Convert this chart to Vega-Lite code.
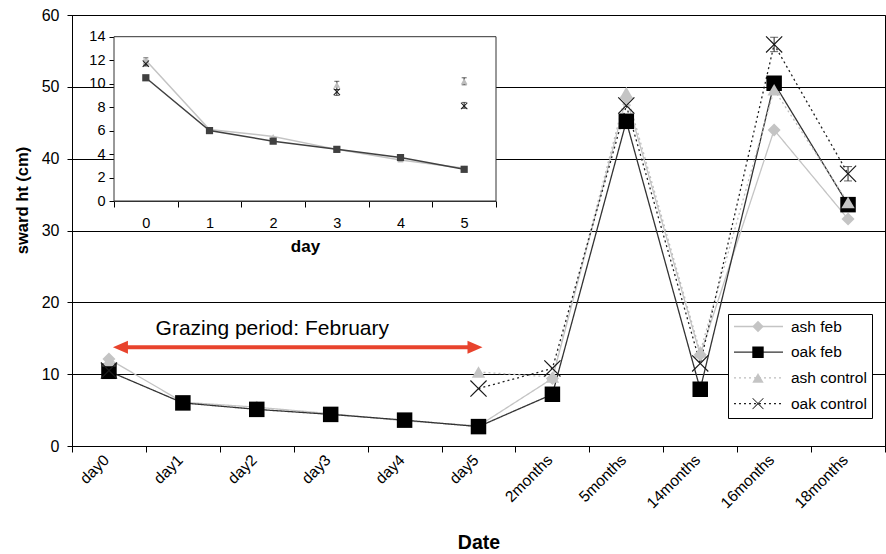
{
  "$schema": "https://vega.github.io/schema/vega-lite/v6.json",
  "width": 813,
  "height": 431,
  "autosize": "none",
  "padding": {"left": 72, "top": 15, "right": 1, "bottom": 108},
  "background": "white",
  "config": {
    "view": {"stroke": "#000", "strokeWidth": 1},
    "font": "Liberation Sans",
    "axis": {
      "labelFont": "Liberation Sans",
      "titleFont": "Liberation Sans",
      "domainColor": "#000",
      "tickColor": "#000",
      "labelColor": "#000",
      "titleColor": "#000",
      "gridColor": "#000",
      "gridOpacity": 1,
      "domainWidth": 1,
      "tickWidth": 1
    },
    "legend": {"labelFont": "Liberation Sans", "labelColor": "#000"}
  },
  "datasets": {
    "main": [
      {"date": "day0", "series": "ash feb", "v": 12.1, "seg": "a"},
      {"date": "day1", "series": "ash feb", "v": 6.1, "seg": "a"},
      {"date": "day2", "series": "ash feb", "v": 5.4, "seg": "a"},
      {"date": "day3", "series": "ash feb", "v": 4.5, "seg": "a"},
      {"date": "day4", "series": "ash feb", "v": 3.5, "seg": "a"},
      {"date": "day5", "series": "ash feb", "v": 2.8, "seg": "a"},
      {"date": "2months", "series": "ash feb", "v": 9.4, "seg": "a"},
      {"date": "5months", "series": "ash feb", "v": 48.5, "seg": "a"},
      {"date": "14months", "series": "ash feb", "v": 12.7, "seg": "a"},
      {"date": "16months", "series": "ash feb", "v": 44.0, "seg": "a"},
      {"date": "18months", "series": "ash feb", "v": 31.6, "seg": "a"},
      {"date": "day0", "series": "oak feb", "v": 10.4, "seg": "a"},
      {"date": "day1", "series": "oak feb", "v": 6.0, "seg": "a"},
      {"date": "day2", "series": "oak feb", "v": 5.1, "seg": "a"},
      {"date": "day3", "series": "oak feb", "v": 4.4, "seg": "a"},
      {"date": "day4", "series": "oak feb", "v": 3.6, "seg": "a"},
      {"date": "day5", "series": "oak feb", "v": 2.7, "seg": "a"},
      {"date": "2months", "series": "oak feb", "v": 7.2, "seg": "a"},
      {"date": "5months", "series": "oak feb", "v": 45.2, "seg": "a"},
      {"date": "14months", "series": "oak feb", "v": 7.9, "seg": "a"},
      {"date": "16months", "series": "oak feb", "v": 50.5, "seg": "a"},
      {"date": "18months", "series": "oak feb", "v": 33.6, "seg": "a"},
      {"date": "day0", "series": "ash control", "v": 11.9, "seg": "a"},
      {"date": "day5", "series": "ash control", "v": 10.3, "seg": "b"},
      {"date": "2months", "series": "ash control", "v": 9.6, "seg": "b"},
      {"date": "5months", "series": "ash control", "v": 49.2, "seg": "b"},
      {"date": "14months", "series": "ash control", "v": 13.1, "seg": "b"},
      {"date": "16months", "series": "ash control", "v": 49.6, "seg": "b"},
      {"date": "18months", "series": "ash control", "v": 33.9, "seg": "b"},
      {"date": "day0", "series": "oak control", "v": 10.5, "seg": "a"},
      {"date": "day5", "series": "oak control", "v": 8.0, "seg": "b"},
      {"date": "2months", "series": "oak control", "v": 10.8, "seg": "b"},
      {"date": "5months", "series": "oak control", "v": 47.4, "seg": "b"},
      {"date": "14months", "series": "oak control", "v": 11.5, "seg": "b"},
      {"date": "16months", "series": "oak control", "v": 55.9, "seg": "b", "lo": 54.9, "hi": 56.9},
      {"date": "18months", "series": "oak control", "v": 37.9, "seg": "b", "lo": 36.9, "hi": 38.9}
    ],
    "inset": [
      {"d": 0, "series": "ash feb", "v": 12.0},
      {"d": 1, "series": "ash feb", "v": 6.1},
      {"d": 2, "series": "ash feb", "v": 5.5},
      {"d": 3, "series": "ash feb", "v": 4.4},
      {"d": 4, "series": "ash feb", "v": 3.5},
      {"d": 5, "series": "ash feb", "v": 2.8},
      {"d": 0, "series": "oak feb", "v": 10.5},
      {"d": 1, "series": "oak feb", "v": 6.0},
      {"d": 2, "series": "oak feb", "v": 5.1},
      {"d": 3, "series": "oak feb", "v": 4.4},
      {"d": 4, "series": "oak feb", "v": 3.7},
      {"d": 5, "series": "oak feb", "v": 2.7},
      {"d": 0, "series": "ash control", "v": 11.9, "lo": 11.6, "hi": 12.2},
      {"d": 3, "series": "ash control", "v": 9.9, "lo": 9.5, "hi": 10.2},
      {"d": 5, "series": "ash control", "v": 10.2, "lo": 9.9, "hi": 10.5},
      {"d": 0, "series": "oak control", "v": 11.7, "lo": 11.5, "hi": 12.0},
      {"d": 3, "series": "oak control", "v": 9.3, "lo": 9.0, "hi": 9.5},
      {"d": 5, "series": "oak control", "v": 8.1, "lo": 7.9, "hi": 8.4}
    ],
    "one": [{"note": "Grazing period: February"}]
  },
  "layer": [
    {
      "layer": [
        {
          "data": {"name": "main"},
          "mark": {"type": "line", "strokeWidth": 1.3},
          "encoding": {
            "x": {
              "field": "date", "type": "nominal",
              "scale": {"type": "band", "domain": ["day0","day1","day2","day3","day4","day5","2months","5months","14months","16months","18months"], "paddingInner": 0, "paddingOuter": 0},
              "axis": {"title": "Date", "titleFontSize": 19.5, "titleFontWeight": "bold", "titlePadding": 22, "labelAngle": -45, "labelAlign": "right", "labelBaseline": "middle", "labelFontSize": 15.5, "labelOffset": -3, "tickBand": "extent", "tickSize": 6, "labelPadding": 5, "grid": false, "labelOverlap": false}
            },
            "y": {
              "field": "v", "type": "quantitative",
              "scale": {"domain": [0, 60], "nice": false},
              "axis": {"title": "sward ht (cm)", "titleFontSize": 16.5, "titleFontWeight": "bold", "titleX": -49.5, "titleY": 185, "titleBaseline": "middle", "titleAlign": "center", "titleAngle": -90, "values": [0,10,20,30,40,50,60], "labelFontSize": 16, "tickSize": 5, "labelPadding": 8, "grid": true}
            },
            "stroke": {
              "field": "series", "type": "nominal",
              "scale": {"range": ["#bdbdbd", "#c4c4c4", "#222222", "#333333"]},
              "legend": {"orient": "none", "legendX": 656, "legendY": 299, "title": null, "values": ["ash feb", "oak feb", "ash control", "oak control"], "symbolType": "stroke", "symbolSize": 2401, "symbolStrokeWidth": 1.3, "clipHeight": 15, "labelFontSize": 15.5, "labelOffset": 7, "padding": 5, "rowPadding": 9.7, "strokeColor": "#000", "fillColor": "white", "zindex": 1}
            },
            "strokeDash": {
              "field": "series", "type": "nominal",
              "scale": {"range": [[2, 3], [1, 0], [2, 3], [1, 0]]}
            },
            "detail": {"field": "seg"}
          }
        },
        {
          "data": {"name": "main"},
          "transform": [{"filter": "isValid(datum.lo)"}],
          "mark": {"type": "errorbar", "ticks": {"size": 8}, "color": "#222", "thickness": 1},
          "encoding": {
            "x": {"field": "date", "type": "nominal", "scale": {"type": "band", "domain": ["day0","day1","day2","day3","day4","day5","2months","5months","14months","16months","18months"], "paddingInner": 0, "paddingOuter": 0}},
            "y": {"field": "lo", "type": "quantitative", "title": "sward ht (cm)", "scale": {"domain": [0, 60], "nice": false}},
            "y2": {"field": "hi"}
          }
        },
        {
          "data": {"name": "main"},
          "transform": [{"filter": "datum.series == 'ash feb'"}],
          "mark": {"type": "point", "filled": true, "opacity": 1, "strokeWidth": 0, "size": 170},
          "encoding": {
            "x": {"field": "date", "type": "nominal", "scale": {"type": "band", "domain": ["day0","day1","day2","day3","day4","day5","2months","5months","14months","16months","18months"], "paddingInner": 0, "paddingOuter": 0}},
            "y": {"field": "v", "type": "quantitative", "title": "sward ht (cm)", "scale": {"domain": [0, 60], "nice": false}},
            "fill": {
              "field": "series", "type": "nominal",
              "scale": {"domain": ["ash feb", "oak feb", "ash control", "oak control"], "range": ["#c4c4c4", "#000000", "#c4c4c4", "#1a1a1a"]},
              "legend": {"orient": "none", "legendX": 673.25, "legendY": 299, "title": null, "symbolSize": 130, "symbolStrokeWidth": 0, "clipHeight": 15, "labelFontSize": 15.5, "labelOpacity": 0, "labelExpr": "''", "padding": 5, "rowPadding": 9.7, "zindex": 2}
            },
            "shape": {
              "field": "series", "type": "nominal",
              "scale": {"domain": ["ash feb", "oak feb", "ash control", "oak control"], "range": ["diamond", "square", "triangle-up", "M-1,-0.9L-0.9,-1L0,-0.1L0.9,-1L1,-0.9L0.1,0L1,0.9L0.9,1L0,0.1L-0.9,1L-1,0.9L-0.1,0Z"]}
            }
          }
        },
        {
          "data": {"name": "main"},
          "transform": [{"filter": "datum.series == 'oak feb'"}],
          "mark": {"type": "point", "filled": true, "opacity": 1, "strokeWidth": 0, "size": 240},
          "encoding": {
            "x": {"field": "date", "type": "nominal", "scale": {"type": "band", "domain": ["day0","day1","day2","day3","day4","day5","2months","5months","14months","16months","18months"], "paddingInner": 0, "paddingOuter": 0}},
            "y": {"field": "v", "type": "quantitative", "title": "sward ht (cm)", "scale": {"domain": [0, 60], "nice": false}},
            "fill": {"field": "series", "type": "nominal", "scale": {"domain": ["ash feb", "oak feb", "ash control", "oak control"], "range": ["#c4c4c4", "#000000", "#c4c4c4", "#1a1a1a"]}},
            "shape": {"field": "series", "type": "nominal", "scale": {"domain": ["ash feb", "oak feb", "ash control", "oak control"], "range": ["diamond", "square", "triangle-up", "M-1,-0.9L-0.9,-1L0,-0.1L0.9,-1L1,-0.9L0.1,0L1,0.9L0.9,1L0,0.1L-0.9,1L-1,0.9L-0.1,0Z"]}}
          }
        },
        {
          "data": {"name": "main"},
          "transform": [{"filter": "datum.series == 'ash control'"}],
          "mark": {"type": "point", "filled": true, "opacity": 1, "strokeWidth": 0, "size": 180},
          "encoding": {
            "x": {"field": "date", "type": "nominal", "scale": {"type": "band", "domain": ["day0","day1","day2","day3","day4","day5","2months","5months","14months","16months","18months"], "paddingInner": 0, "paddingOuter": 0}},
            "y": {"field": "v", "type": "quantitative", "title": "sward ht (cm)", "scale": {"domain": [0, 60], "nice": false}},
            "fill": {"field": "series", "type": "nominal", "scale": {"domain": ["ash feb", "oak feb", "ash control", "oak control"], "range": ["#c4c4c4", "#000000", "#c4c4c4", "#1a1a1a"]}},
            "shape": {"field": "series", "type": "nominal", "scale": {"domain": ["ash feb", "oak feb", "ash control", "oak control"], "range": ["diamond", "square", "triangle-up", "M-1,-0.9L-0.9,-1L0,-0.1L0.9,-1L1,-0.9L0.1,0L1,0.9L0.9,1L0,0.1L-0.9,1L-1,0.9L-0.1,0Z"]}}
          }
        },
        {
          "data": {"name": "main"},
          "transform": [{"filter": "datum.series == 'oak control'"}],
          "mark": {"type": "point", "filled": true, "opacity": 1, "strokeWidth": 0, "size": 289},
          "encoding": {
            "x": {"field": "date", "type": "nominal", "scale": {"type": "band", "domain": ["day0","day1","day2","day3","day4","day5","2months","5months","14months","16months","18months"], "paddingInner": 0, "paddingOuter": 0}},
            "y": {"field": "v", "type": "quantitative", "title": "sward ht (cm)", "scale": {"domain": [0, 60], "nice": false}},
            "fill": {"field": "series", "type": "nominal", "scale": {"domain": ["ash feb", "oak feb", "ash control", "oak control"], "range": ["#c4c4c4", "#000000", "#c4c4c4", "#1a1a1a"]}},
            "shape": {"field": "series", "type": "nominal", "scale": {"domain": ["ash feb", "oak feb", "ash control", "oak control"], "range": ["diamond", "square", "triangle-up", "M-1,-0.9L-0.9,-1L0,-0.1L0.9,-1L1,-0.9L0.1,0L1,0.9L0.9,1L0,0.1L-0.9,1L-1,0.9L-0.1,0Z"]}}
          }
        },
        {
          "data": {"name": "one"},
          "mark": {"type": "rule", "color": "#e8432d", "strokeWidth": 4, "xOffset": 12, "x2Offset": -5},
          "encoding": {
            "x": {"datum": "day0", "type": "nominal", "scale": {"type": "band", "domain": ["day0","day1","day2","day3","day4","day5","2months","5months","14months","16months","18months"], "paddingInner": 0, "paddingOuter": 0}},
            "x2": {"datum": "day5"},
            "y": {"datum": 13.74, "type": "quantitative", "scale": {"domain": [0, 60], "nice": false}}
          }
        },
        {
          "data": {"name": "one"},
          "mark": {"type": "point", "filled": true, "opacity": 1, "strokeWidth": 0, "fill": "#e8432d", "size": 225, "shape": "M-1,0L1,-0.87L1,0.87Z", "xOffset": 11.5},
          "encoding": {
            "x": {"datum": "day0", "type": "nominal", "scale": {"type": "band", "domain": ["day0","day1","day2","day3","day4","day5","2months","5months","14months","16months","18months"], "paddingInner": 0, "paddingOuter": 0}},
            "y": {"datum": 13.74, "type": "quantitative", "scale": {"domain": [0, 60], "nice": false}}
          }
        },
        {
          "data": {"name": "one"},
          "mark": {"type": "point", "filled": true, "opacity": 1, "strokeWidth": 0, "fill": "#e8432d", "size": 225, "shape": "M1,0L-1,-0.87L-1,0.87Z", "xOffset": -3.5},
          "encoding": {
            "x": {"datum": "day5", "type": "nominal", "scale": {"type": "band", "domain": ["day0","day1","day2","day3","day4","day5","2months","5months","14months","16months","18months"], "paddingInner": 0, "paddingOuter": 0}},
            "y": {"datum": 13.74, "type": "quantitative", "scale": {"domain": [0, 60], "nice": false}}
          }
        },
        {
          "data": {"name": "one"},
          "mark": {"type": "text", "fontSize": 21, "align": "center", "baseline": "alphabetic", "xOffset": 15.5, "color": "#000", "font": "Liberation Sans"},
          "encoding": {
            "x": {"datum": "day2", "type": "nominal", "scale": {"type": "band", "domain": ["day0","day1","day2","day3","day4","day5","2months","5months","14months","16months","18months"], "paddingInner": 0, "paddingOuter": 0}},
            "y": {"datum": 15.45, "type": "quantitative", "scale": {"domain": [0, 60], "nice": false}},
            "text": {"field": "note"}
          }
        }
      ]
    },
    {
      "layer": [
        {
          "data": {"name": "one"},
          "mark": {"type": "rect", "fill": "white", "stroke": "#333", "strokeWidth": 1},
          "encoding": {
            "x": {
              "datum": -0.5, "type": "quantitative",
              "scale": {"domain": [-0.5, 5.5], "range": [42, 424], "nice": false, "zero": false},
              "axis": {"orient": "bottom", "offset": -245, "values": [-0.5, 0.5, 1.5, 2.5, 3.5, 4.5, 5.5], "labelExpr": "datum.value < 5 ? format(datum.value + 0.5, 'd') : ''", "labelOffset": 31.8, "labelFontSize": 14.5, "tickSize": 6, "labelPadding": 9, "title": "day", "titleFontSize": 17, "titleFontWeight": "bold", "titlePadding": 9, "grid": false, "labelFlush": false, "labelOverlap": false, "domainColor": "#333"}
            },
            "x2": {"datum": 5.5},
            "y": {
              "datum": 0, "type": "quantitative",
              "scale": {"domain": [0, 14], "range": [186, 21.7], "nice": false},
              "axis": {"orient": "left", "offset": -42, "values": [0, 2, 4, 6, 8, 10, 12, 14], "labelFontSize": 14.5, "tickSize": 5, "labelPadding": 4, "title": null, "grid": false, "labelFlush": false, "labelOverlap": false, "domainColor": "#333"}
            },
            "y2": {"datum": 14}
          }
        },
        {
          "data": {"name": "inset"},
          "transform": [{"filter": "datum.series == 'ash feb'"}],
          "mark": {"type": "line", "color": "#c4c4c4", "strokeWidth": 1.5},
          "encoding": {
            "x": {"field": "d", "type": "quantitative", "scale": {"domain": [-0.5, 5.5], "range": [42, 424], "nice": false, "zero": false}},
            "y": {"field": "v", "type": "quantitative", "scale": {"domain": [0, 14], "range": [186, 21.7], "nice": false}}
          }
        },
        {
          "data": {"name": "inset"},
          "transform": [{"filter": "datum.series == 'oak feb'"}],
          "mark": {"type": "line", "color": "#404040", "strokeWidth": 1.5},
          "encoding": {
            "x": {"field": "d", "type": "quantitative", "scale": {"domain": [-0.5, 5.5], "range": [42, 424], "nice": false, "zero": false}},
            "y": {"field": "v", "type": "quantitative", "scale": {"domain": [0, 14], "range": [186, 21.7], "nice": false}}
          }
        },
        {
          "data": {"name": "inset"},
          "transform": [{"filter": "isValid(datum.lo)"}],
          "mark": {"type": "errorbar", "ticks": {"size": 5}, "color": "#222", "thickness": 1},
          "encoding": {
            "x": {"field": "d", "type": "quantitative", "scale": {"domain": [-0.5, 5.5], "range": [42, 424], "nice": false, "zero": false}},
            "y": {"field": "lo", "type": "quantitative", "scale": {"domain": [0, 14], "range": [186, 21.7], "nice": false}},
            "y2": {"field": "hi"}
          }
        },
        {
          "data": {"name": "inset"},
          "transform": [{"filter": "datum.series == 'ash feb'"}],
          "mark": {"type": "point", "filled": true, "opacity": 1, "strokeWidth": 0, "fill": "#c4c4c4", "shape": "triangle-up", "size": 35},
          "encoding": {
            "x": {"field": "d", "type": "quantitative", "scale": {"domain": [-0.5, 5.5], "range": [42, 424], "nice": false, "zero": false}},
            "y": {"field": "v", "type": "quantitative", "scale": {"domain": [0, 14], "range": [186, 21.7], "nice": false}}
          }
        },
        {
          "data": {"name": "inset"},
          "transform": [{"filter": "datum.series == 'oak feb'"}],
          "mark": {"type": "point", "filled": true, "opacity": 1, "strokeWidth": 0, "fill": "#404040", "shape": "square", "size": 52},
          "encoding": {
            "x": {"field": "d", "type": "quantitative", "scale": {"domain": [-0.5, 5.5], "range": [42, 424], "nice": false, "zero": false}},
            "y": {"field": "v", "type": "quantitative", "scale": {"domain": [0, 14], "range": [186, 21.7], "nice": false}}
          }
        },
        {
          "data": {"name": "inset"},
          "transform": [{"filter": "datum.series == 'ash control'"}],
          "mark": {"type": "point", "filled": true, "opacity": 1, "strokeWidth": 0, "fill": "#bdbdbd", "shape": "triangle-up", "size": 45},
          "encoding": {
            "x": {"field": "d", "type": "quantitative", "scale": {"domain": [-0.5, 5.5], "range": [42, 424], "nice": false, "zero": false}},
            "y": {"field": "v", "type": "quantitative", "scale": {"domain": [0, 14], "range": [186, 21.7], "nice": false}}
          }
        },
        {
          "data": {"name": "inset"},
          "transform": [{"filter": "datum.series == 'oak control'"}],
          "mark": {"type": "point", "filled": true, "opacity": 1, "strokeWidth": 0, "fill": "#1a1a1a", "shape": "M-1,-0.8L-0.8,-1L0,-0.2L0.8,-1L1,-0.8L0.2,0L1,0.8L0.8,1L0,0.2L-0.8,1L-1,0.8L-0.2,0Z", "size": 50},
          "encoding": {
            "x": {"field": "d", "type": "quantitative", "scale": {"domain": [-0.5, 5.5], "range": [42, 424], "nice": false, "zero": false}},
            "y": {"field": "v", "type": "quantitative", "scale": {"domain": [0, 14], "range": [186, 21.7], "nice": false}}
          }
        }
      ]
    }
  ],
  "resolve": {"scale": {"x": "independent", "y": "independent"}}
}
